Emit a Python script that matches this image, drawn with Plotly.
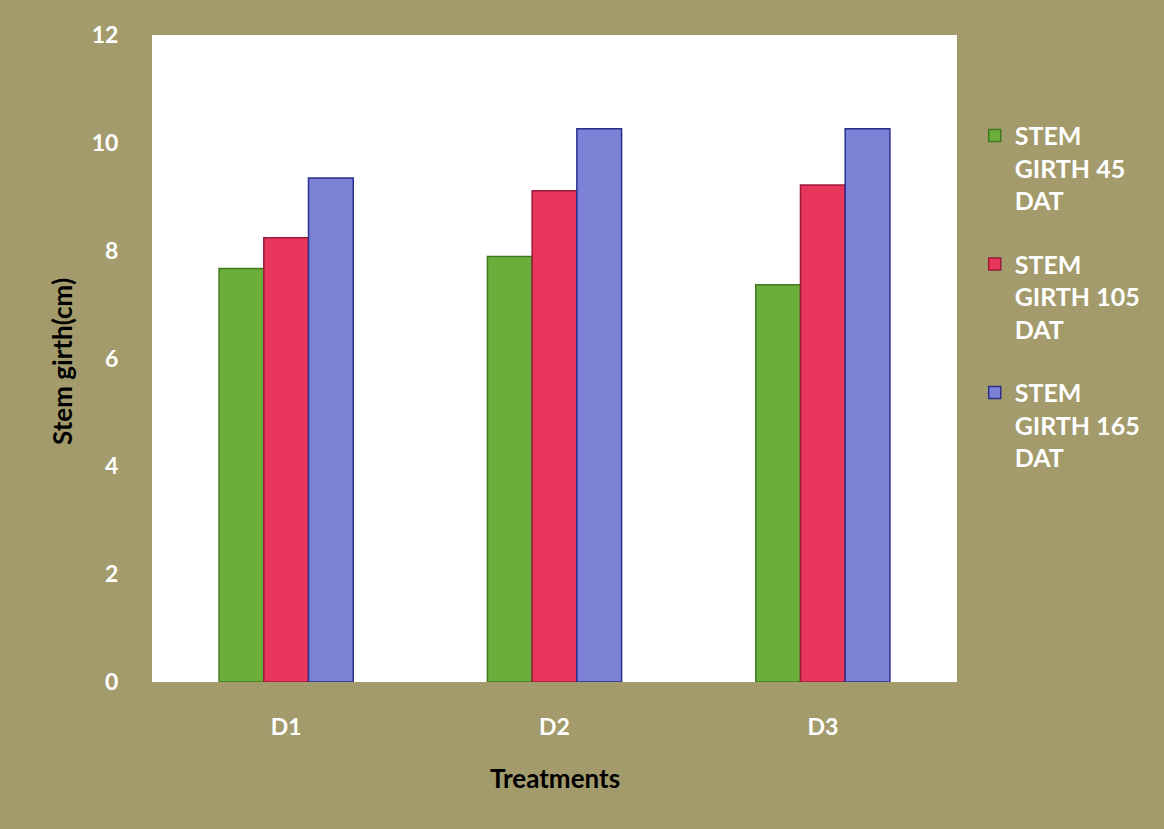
import plotly.graph_objects as go

# Stem girth (cm) per treatment at three sampling dates
treatments = ["D1", "D2", "D3"]
girth_45 = [7.67, 7.89, 7.37]
girth_105 = [8.24, 9.11, 9.22]
girth_165 = [9.35, 10.26, 10.26]

series_names = ["STEM<br>GIRTH 45<br>DAT", "STEM<br>GIRTH 105<br>DAT", "STEM<br>GIRTH 165<br>DAT"]
series_values = [girth_45, girth_105, girth_165]
fill_colors = ["#6cae3c", "#e8365c", "#7b82d6"]
edge_colors = ["#3f7a1e", "#9a1a3c", "#2a2f8c"]

bg = "#a39b6c"
font_family = "Lato, 'Open Sans', sans-serif"

fig = go.Figure()
for i, (name, vals, fc, ec) in enumerate(zip(series_names, series_values, fill_colors, edge_colors)):
    fig.add_trace(go.Bar(
        x=treatments, y=vals, name=name, legendgroup=f"g{i}",
        marker=dict(color=fc, line=dict(color=ec, width=1.5)),
    ))

fig.update_layout(
    width=1164, height=829,
    margin=dict(l=152, r=207, t=35, b=147),
    paper_bgcolor=bg,
    plot_bgcolor="white",
    barmode="group",
    bargap=0.5,
    bargroupgap=0,
    showlegend=True,
    legend=dict(
        x=1.022, xanchor="left", y=0.88, yanchor="top",
        bgcolor="rgba(0,0,0,0)",
        font=dict(family=font_family, size=25, color="white", weight="bold"),
        valign="top",
        tracegroupgap=28,
        itemwidth=30,
    ),
    xaxis=dict(
        showgrid=False, showline=False, zeroline=False,
        ticks="outside", ticklen=24, tickcolor=bg,
        tickfont=dict(family=font_family, size=23, color="white", weight="bold"),
    ),
    yaxis=dict(
        range=[0, 12], dtick=2,
        showgrid=False, showline=False, zeroline=False,
        ticks="outside", ticklen=28, tickcolor=bg,
        tickfont=dict(family=font_family, size=23, color="white", weight="bold"),
    ),
    annotations=[
        dict(text="Treatments", xref="paper", yref="paper", x=0.5, y=-0.148,
             xanchor="center", yanchor="middle", showarrow=False,
             font=dict(family=font_family, size=26, color="black", weight="bold")),
        dict(text="Stem girth(cm)", xref="paper", yref="paper", x=-0.112, y=0.496,
             xanchor="center", yanchor="middle", showarrow=False, textangle=-90,
             font=dict(family=font_family, size=26, color="black", weight="bold")),
    ],
)

fig.write_html("out.html")
